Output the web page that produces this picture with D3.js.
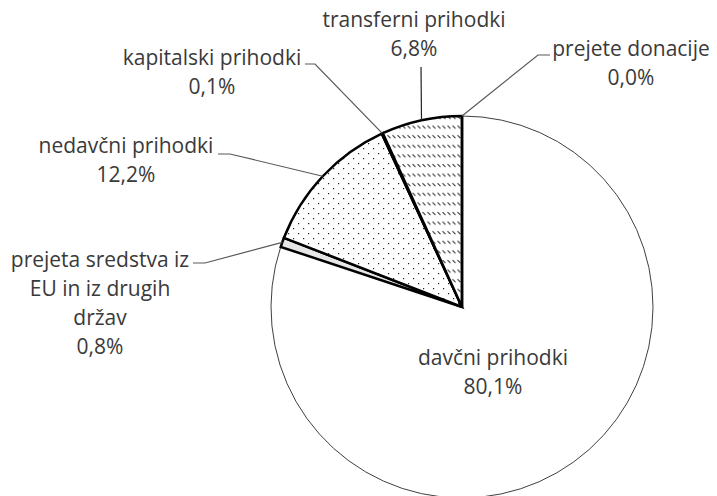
<!DOCTYPE html>
<html lang="sl">
<head>
    <meta charset="UTF-8">
    <title>Struktura prihodkov</title>
    <script src="https://d3js.org/d3.v7.min.js"></script>
    <style>
        body { margin: 0; background: #fff; }
        svg text { font-family: "Open Sans", sans-serif; fill: #3a3a3a; }
    </style>
</head>
<body>
    <svg id="chart" width="717" height="496"></svg>
    <script>
        // data
        var categories = ["davčni prihodki", "prejeta sredstva iz EU in iz drugih držav", "nedavčni prihodki",
            "kapitalski prihodki", "transferni prihodki", "prejete donacije"];
        var shares = [80.1, 0.8, 12.2, 0.1, 6.8, 0.0];
        // how each label is broken into lines
        var labelLines = [
            ["davčni prihodki"],
            ["prejeta sredstva iz", "EU in iz drugih", "držav"],
            ["nedavčni prihodki"],
            ["kapitalski prihodki"],
            ["transferni prihodki"],
            ["prejete donacije"]
        ];

        // layout for labels: text centre x, first baseline y, and leader elbow
        var labelLayout = [
            { x: 493, y: 365, leader: null },
            { x: 100, y: 267, elbow: [205, 263], end: [193, 263] },
            { x: 126, y: 153, elbow: [230, 154], end: [218, 154] },
            { x: 212, y: 65, elbow: [315, 64], end: [305, 64] },
            { x: 414, y: 27, elbow: null, end: [421, 67] },
            { x: 631, y: 56, elbow: [538, 55], end: [550, 55] }
        ];

        var svg = d3.select("#chart");
        var cx = 462, cy = 307, r = 191;
        var lineH = 29;

        var defs = svg.append("defs");

        var dots = defs.append("pattern")
            .attr("id", "dots")
            .attr("patternUnits", "userSpaceOnUse")
            .attr("width", 10).attr("height", 10);
        dots.append("rect").attr("width", 10).attr("height", 10).attr("fill", "#fff");
        dots.append("rect").attr("x", 1).attr("y", 1).attr("width", 1.2).attr("height", 1.2).attr("fill", "#222");
        dots.append("rect").attr("x", 6).attr("y", 6).attr("width", 1.2).attr("height", 1.2).attr("fill", "#222");

        var hatch = defs.append("pattern")
            .attr("id", "hatch")
            .attr("patternUnits", "userSpaceOnUse")
            .attr("width", 5).attr("height", 9.6);
        hatch.append("rect").attr("width", 5).attr("height", 9.6).attr("fill", "#fff");
        hatch.append("line")
            .attr("x1", 0.5).attr("y1", 1).attr("x2", 3.5).attr("y2", 4)
            .attr("stroke", "#333").attr("stroke-width", 1.1);

        var fills = ["#ffffff", "#e6e6e6", "url(#dots)", "#ffffff", "url(#hatch)", "#ffffff"];

        var pie = d3.pie().sort(null).value(function(d) { return d; });
        var arcs = pie(shares);

        var arc = d3.arc().innerRadius(0).outerRadius(r);

        var g = svg.append("g").attr("transform", "translate(" + cx + "," + cy + ")");

        // big slice first, thin outline
        g.append("path")
            .attr("d", arc(arcs[0]))
            .attr("fill", fills[0])
            .attr("stroke", "#404040")
            .attr("stroke-width", 1);

        g.selectAll("path.slice")
            .data(arcs.slice(1))
            .enter().append("path")
            .attr("class", "slice")
            .attr("d", arc)
            .attr("fill", function(d, i) { return fills[i + 1]; })
            .attr("stroke", "#000")
            .attr("stroke-width", 2.5)
            .attr("stroke-linejoin", "miter");

        // leader lines
        arcs.forEach(function(a, i) {
            var lay = labelLayout[i];
            if (!lay.end) return;
            var mid = (a.startAngle + a.endAngle) / 2;
            var p0 = [cx + r * Math.sin(mid), cy - r * Math.cos(mid)];
            var pts = [p0];
            if (lay.elbow) pts.push(lay.elbow);
            pts.push(lay.end);
            svg.append("path")
                .attr("d", d3.line()(pts))
                .attr("fill", "none")
                .attr("stroke", i === 4 ? "#222" : "#595959")
                .attr("stroke-width", 1.2);
        });

        // labels
        arcs.forEach(function(a, i) {
            var lay = labelLayout[i];
            var lines = labelLines[i].concat([d3.format(".1f")(shares[i]).replace(".", ",") + "%"]);
            var t = svg.append("text")
                .attr("text-anchor", "middle")
                .attr("font-size", 21);
            lines.forEach(function(s, k) {
                t.append("tspan")
                    .attr("x", lay.x)
                    .attr("y", lay.y + k * lineH)
                    .text(s);
            });
        });
    </script>
</body>
</html>
